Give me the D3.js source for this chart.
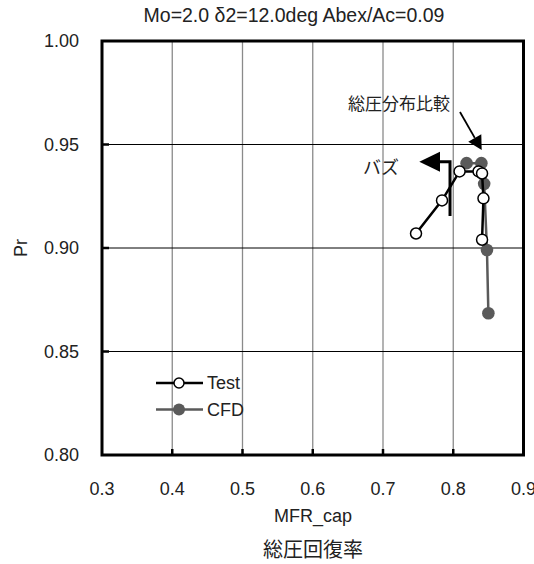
<!DOCTYPE html>
<html>
<head>
<meta charset="utf-8">
<script src="https://cdn.jsdelivr.net/npm/d3@7"></script>
<style>
	body{ margin:0; background:#fff; }
	svg text{ font-family:"Liberation Sans", Arial, sans-serif; fill:#222; }
	.jp{ font-family:"Noto Sans CJK JP", sans-serif; }
</style>
</head>
<body>
<div id="chart"></div>
<script>
var xTicks = [0.3, 0.4, 0.5, 0.6, 0.7, 0.8, 0.9]
	, yTicks = [0.80, 0.85, 0.90, 0.95, 1.00]
	// Test (open circles)
	, testX = [0.747, 0.784, 0.809, 0.836, 0.841, 0.843, 0.841]
	, testY = [0.907, 0.923, 0.937, 0.937, 0.936, 0.924, 0.904]
	// CFD (filled)
	, cfdX = [0.819, 0.840, 0.844, 0.848, 0.850]
	, cfdY = [0.941, 0.941, 0.931, 0.899, 0.8685]
	, seriesNames = ['Test', 'CFD']
	;

var W = 534, H = 564
	, pL = 102, pR = 523.5, pT = 41, pB = 455
	, grey = '#5a5a5a'
	;

var svg = d3.select('#chart').append('svg').attr('width', W).attr('height', H);

var x = d3.scaleLinear().domain([0.3, 0.9]).range([pL, pR]);
var y = d3.scaleLinear().domain([0.8, 1.0]).range([pB, pT]);

// grid
svg.selectAll('.vgrid').data(xTicks.slice(1, -1)).enter().append('line')
	.attr('x1', x).attr('x2', x).attr('y1', pT).attr('y2', pB)
	.attr('stroke', '#8a8a8a').attr('stroke-width', 1.3);
svg.selectAll('.hgrid').data(yTicks.slice(1, -1)).enter().append('line')
	.attr('x1', pL).attr('x2', pR).attr('y1', y).attr('y2', y)
	.attr('stroke', '#000').attr('stroke-width', 1);

// inner tick marks
svg.selectAll('.xt').data(xTicks.slice(1, -1)).enter().append('line')
	.attr('x1', x).attr('x2', x).attr('y1', pB).attr('y2', pB - 6)
	.attr('stroke', '#000').attr('stroke-width', 2.5);
svg.selectAll('.yt').data(yTicks.slice(1, -1)).enter().append('line')
	.attr('x1', pL).attr('x2', pL + 7).attr('y1', y).attr('y2', y)
	.attr('stroke', '#000').attr('stroke-width', 2.5);

// frame
svg.append('rect').attr('x', pL).attr('y', pT).attr('width', pR - pL).attr('height', pB - pT)
	.attr('fill', 'none').attr('stroke', '#000').attr('stroke-width', 3);

// tick labels
svg.selectAll('.xl').data(xTicks).enter().append('text')
	.attr('x', x).attr('y', 489).attr('dy', '0.35em').attr('text-anchor', 'middle')
	.style('font-size', '18px').text(d3.format('.1f'));
svg.selectAll('.yl').data(yTicks).enter().append('text')
	.attr('x', 79).attr('y', y).attr('dy', '0.35em').attr('text-anchor', 'end')
	.style('font-size', '18px').text(d3.format('.2f'));

// titles
svg.append('text').attr('x', 294).attr('y', 15).attr('dy', '0.35em').attr('text-anchor', 'middle')
	.style('font-size', '19.5px').text('Mo=2.0 δ2=12.0deg Abex/Ac=0.09');
svg.append('text').attr('x', 313).attr('y', 516).attr('dy', '0.35em').attr('text-anchor', 'middle')
	.style('font-size', '18px').text('MFR_cap');
svg.append('text').attr('class', 'jp').attr('x', 313).attr('y', 550).attr('dy', '0.35em').attr('text-anchor', 'middle')
	.style('font-size', '20px').text('総圧回復率');
svg.append('text').attr('transform', 'translate(21,248) rotate(-90)').attr('dy', '0.35em').attr('text-anchor', 'middle')
	.style('font-size', '18px').text('Pr');

// annotations
// バズ : arrow pointing left with an L-shaped stem
var bx = x(0.7954), by = y(0.9417), bTip = x(0.7517), bBase = x(0.7811), bEnd = y(0.9155);
svg.append('path').attr('d', 'M' + bTip + ',' + by + 'L' + bBase + ',' + (by - 10) + 'L' + bBase + ',' + (by + 10) + 'Z')
	.attr('fill', '#000');
svg.append('path').attr('d', 'M' + bBase + ',' + by + 'L' + bx + ',' + by + 'L' + bx + ',' + bEnd)
	.attr('fill', 'none').attr('stroke', '#000').attr('stroke-width', 3);
svg.append('text').attr('class', 'jp').attr('x', x(0.697)).attr('y', y(0.9386)).attr('dy', '0.35em')
	.attr('text-anchor', 'middle').style('font-size', '18px').text('バズ');

// 総圧分布比較 : diagonal arrow
var a0 = [x(0.8096), y(0.9657)], a1 = [x(0.8405), y(0.9473)];
var ang = Math.atan2(a1[1] - a0[1], a1[0] - a0[0]), hl = 14, hw = 7.5;
var hb = [a1[0] - hl * Math.cos(ang), a1[1] - hl * Math.sin(ang)];
svg.append('line').attr('x1', a0[0]).attr('y1', a0[1]).attr('x2', hb[0]).attr('y2', hb[1])
	.attr('stroke', '#000').attr('stroke-width', 1.8);
svg.append('path').attr('d',
	'M' + a1[0] + ',' + a1[1] +
	'L' + (hb[0] + hw * Math.sin(ang)) + ',' + (hb[1] - hw * Math.cos(ang)) +
	'L' + (hb[0] - hw * Math.sin(ang)) + ',' + (hb[1] + hw * Math.cos(ang)) + 'Z')
	.attr('fill', '#000');
svg.append('text').attr('class', 'jp').attr('x', 450).attr('y', y(0.9696)).attr('dy', '0.35em')
	.attr('text-anchor', 'end').style('font-size', '17px').text('総圧分布比較');

// series
var line = d3.line().x(function(d){ return x(d[0]); }).y(function(d){ return y(d[1]); });
var cfd = d3.zip(cfdX, cfdY), test = d3.zip(testX, testY);

svg.append('path').datum(cfd).attr('d', line).attr('fill', 'none').attr('stroke', grey).attr('stroke-width', 2.5);
svg.selectAll('.cfd').data(cfd).enter().append('circle')
	.attr('cx', function(d){ return x(d[0]); }).attr('cy', function(d){ return y(d[1]); })
	.attr('r', 6.3).attr('fill', grey);

svg.append('path').datum(test).attr('d', line).attr('fill', 'none').attr('stroke', '#000').attr('stroke-width', 2.5);
svg.selectAll('.test').data(test).enter().append('circle')
	.attr('cx', function(d){ return x(d[0]); }).attr('cy', function(d){ return y(d[1]); })
	.attr('r', 5.5).attr('fill', '#fff').attr('stroke', '#000').attr('stroke-width', 1.5);

// legend
var lg = svg.append('g');
seriesNames.forEach(function(name, i){
	var ly = 383 + i * 26.5, col = i ? grey : '#000';
	lg.append('line').attr('x1', 156).attr('x2', 203).attr('y1', ly).attr('y2', ly)
		.attr('stroke', col).attr('stroke-width', 2.5);
	lg.append('circle').attr('cx', 179).attr('cy', ly).attr('r', i ? 6 : 5)
		.attr('fill', i ? grey : '#fff').attr('stroke', i ? 'none' : '#000').attr('stroke-width', 1.5);
	lg.append('text').attr('x', 207).attr('y', ly).attr('dy', '0.35em').style('font-size', '18px').text(name);
});
</script>
</body>
</html>
